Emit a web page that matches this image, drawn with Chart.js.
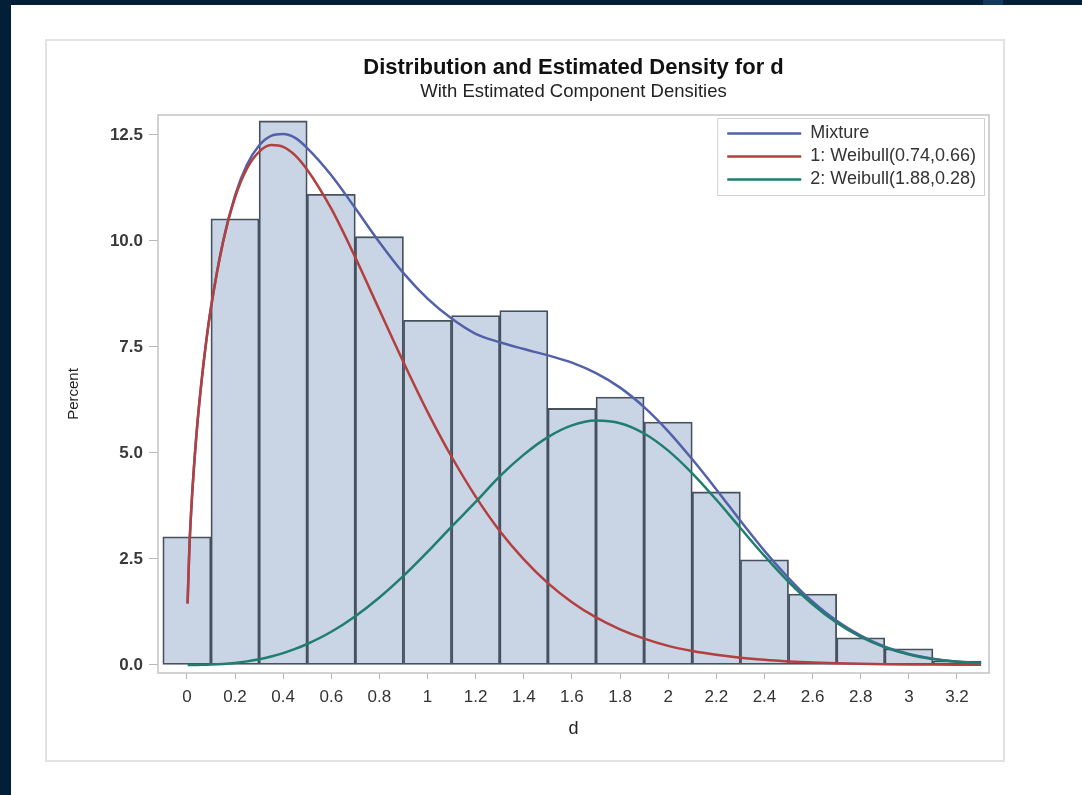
<!DOCTYPE html>
<html>
<head>
<meta charset="utf-8">
<script src="https://cdn.jsdelivr.net/npm/chart.js@4.4.1/dist/chart.umd.min.js"></script>
<style>
html,body{margin:0;padding:0;background:#fff;width:1082px;height:795px;overflow:hidden;}
#topband{position:absolute;left:0;top:0;width:1082px;height:5px;background:#021f37;}
#leftband{position:absolute;left:0;top:0;width:11px;height:795px;background:#021f37;}
#tab{position:absolute;left:983px;top:0;width:20px;height:5px;background:#133a5c;}
#frame{position:absolute;left:45px;top:39px;width:960px;height:723px;border:2px solid #e2e2e2;box-sizing:border-box;}
#wrap{position:absolute;left:0;top:0;width:1082px;height:795px;}
</style>
</head>
<body>
<div id="topband"></div>
<div id="leftband"></div>
<div id="tab"></div>
<div id="frame"></div>
<div id="wrap"><canvas id="c" width="1082" height="795"></canvas></div>
<script>
// ---- data ----
const titleText = 'Distribution and Estimated Density for d';
const subtitleText = 'With Estimated Component Densities';
const xAxisTitle = 'd';
const yAxisTitle = 'Percent';

const binCenters = [0, 0.2, 0.4, 0.6, 0.8, 1.0, 1.2, 1.4, 1.6, 1.8, 2.0, 2.2, 2.4, 2.6, 2.8, 3.0, 3.2];
const binPercent = [3.02, 10.52, 12.83, 11.1, 10.1, 8.13, 8.24, 8.36, 6.05, 6.32, 5.73, 4.08, 2.48, 1.67, 0.64, 0.38, 0.09];

const curveX = [0.003, 0.01, 0.02, 0.04, 0.06, 0.08, 0.1, 0.15, 0.2, 0.25, 0.3, 0.35, 0.4, 0.45, 0.5, 0.6, 0.7, 0.8, 0.9, 1.0, 1.1, 1.2, 1.3, 1.4, 1.5, 1.6, 1.7, 1.8, 1.9, 2.0, 2.1, 2.2, 2.3, 2.4, 2.5, 2.6, 2.7, 2.8, 2.9, 3.0, 3.1, 3.2, 3.3];
const mixtureY = [1.45, 2.70, 3.84, 5.45, 6.64, 7.62, 8.43, 9.98, 11.07, 11.80, 12.25, 12.48, 12.52, 12.43, 12.19, 11.55, 10.77, 9.97, 9.24, 8.64, 8.17, 7.81, 7.61, 7.45, 7.30, 7.13, 6.88, 6.54, 6.08, 5.51, 4.85, 4.14, 3.40, 2.69, 2.05, 1.49, 1.04, 0.69, 0.43, 0.26, 0.147, 0.079, 0.04];
const weibull1Y = [1.45, 2.70, 3.84, 5.45, 6.64, 7.61, 8.42, 9.96, 11.02, 11.71, 12.10, 12.26, 12.22, 12.02, 11.68, 10.76, 9.61, 8.37, 7.14, 5.97, 4.91, 3.97, 3.16, 2.49, 1.93, 1.48, 1.12, 0.84, 0.62, 0.45, 0.33, 0.24, 0.17, 0.12, 0.084, 0.058, 0.040, 0.027, 0.018, 0.012, 0.008, 0.005, 0.0035];
const weibull2Y = [0, 0, 0, 0.001, 0.002, 0.005, 0.008, 0.022, 0.047, 0.084, 0.134, 0.199, 0.280, 0.378, 0.494, 0.782, 1.149, 1.591, 2.100, 2.666, 3.264, 3.844, 4.447, 4.960, 5.374, 5.651, 5.764, 5.701, 5.459, 5.055, 4.519, 3.895, 3.229, 2.572, 1.962, 1.432, 0.996, 0.660, 0.415, 0.247, 0.139, 0.074, 0.037];

const seriesLabels = ['Mixture', '1: Weibull(0.74,0.66)', '2: Weibull(1.88,0.28)'];

const xTicks = [0, 0.2, 0.4, 0.6, 0.8, 1, 1.2, 1.4, 1.6, 1.8, 2, 2.2, 2.4, 2.6, 2.8, 3, 3.2];
const xTickLabels = ['0', '0.2', '0.4', '0.6', '0.8', '1', '1.2', '1.4', '1.6', '1.8', '2', '2.2', '2.4', '2.6', '2.8', '3', '3.2'];
const yTicks = [0, 2.5, 5, 7.5, 10, 12.5];
const yTickLabels = ['0.0', '2.5', '5.0', '7.5', '10.0', '12.5'];

// ---- styles ----
const FONT = '"Liberation Sans", Arial, Helvetica, sans-serif';
const colMix = '#5261a9';
const colW1 = '#b33f3f';
const colW2 = '#1f7e6e';

const pts = (xs, ys) => xs.map((x, i) => ({x: x, y: ys[i]}));

const decorPlugin = {
  id: 'decor',
  afterDatasetsDraw(chart) {
    const ctx = chart.ctx, ca = chart.chartArea;
    ctx.save();
    // plot frame
    ctx.strokeStyle = '#c3c3c3';
    ctx.lineWidth = 1.5;
    ctx.strokeRect(ca.left, ca.top, ca.right - ca.left, ca.bottom - ca.top);
    // titles centred over the plot area
    const cx = (ca.left + ca.right) / 2;
    ctx.textAlign = 'center';
    ctx.textBaseline = 'middle';
    ctx.fillStyle = '#111';
    ctx.font = 'bold 22px ' + FONT;
    ctx.fillText(titleText, cx, 68);
    ctx.fillStyle = '#222';
    ctx.font = '18.5px ' + FONT;
    ctx.fillText(subtitleText, cx, 92);
    // legend box inside plot area (top right)
    const ds = chart.data.datasets.filter(d => d.type === 'line');
    ctx.font = '18px ' + FONT;
    const maxW = Math.max(...ds.map(d => ctx.measureText(d.label).width));
    const padL = 10, lineLen = 74, gap = 9, padR = 8, rowH = 23, padT = 4;
    const w = padL + lineLen + gap + maxW + padR;
    const h = padT * 2 + rowH * ds.length;
    const bx = ca.right - 5 - w, by = ca.top + 3;
    ctx.fillStyle = '#ffffff';
    ctx.fillRect(bx, by, w, h);
    ctx.strokeStyle = '#d0d0d0';
    ctx.lineWidth = 1;
    ctx.strokeRect(bx + 0.5, by + 0.5, w, h);
    ds.forEach((d, i) => {
      const cy = by + padT + rowH * i + rowH / 2;
      ctx.strokeStyle = d.borderColor;
      ctx.lineWidth = 2.5;
      ctx.beginPath();
      ctx.moveTo(bx + padL, cy);
      ctx.lineTo(bx + padL + lineLen, cy);
      ctx.stroke();
      ctx.fillStyle = '#333';
      ctx.textBaseline = 'middle';
      ctx.textAlign = 'left';
      ctx.fillText(d.label, bx + padL + lineLen + gap, cy);
    });
    ctx.restore();
  }
};

new Chart(document.getElementById('c'), {
  type: 'bar',
  data: {
    datasets: [
      {
        type: 'bar', label: 'd', data: pts(binCenters, binPercent),
        backgroundColor: '#c9d4e5', borderColor: '#46515e', borderWidth: 1.8,
        borderSkipped: false, barPercentage: 1, categoryPercentage: 1, order: 3
      },
      {
        type: 'line', label: seriesLabels[0], data: pts(curveX, mixtureY),
        borderColor: colMix, borderWidth: 2.5, pointRadius: 0, fill: false,
        cubicInterpolationMode: 'monotone', order: 2
      },
      {
        type: 'line', label: seriesLabels[1], data: pts(curveX, weibull1Y),
        borderColor: colW1, borderWidth: 2.5, pointRadius: 0, fill: false,
        cubicInterpolationMode: 'monotone', order: 1
      },
      {
        type: 'line', label: seriesLabels[2], data: pts(curveX, weibull2Y),
        borderColor: colW2, borderWidth: 2.5, pointRadius: 0, fill: false,
        cubicInterpolationMode: 'monotone', order: 0
      }
    ]
  },
  options: {
    responsive: false,
    animation: false,
    layout: { padding: { left: 46, right: 93, top: 115, bottom: 33 } },
    plugins: {
      legend: { display: false },
      tooltip: { enabled: false },
      title: { display: false },
      subtitle: { display: false }
    },
    scales: {
      x: {
        type: 'linear', min: -0.12, max: 3.333, offset: false,
        afterBuildTicks: s => { s.ticks = xTicks.map(v => ({value: v})); },
        afterFit: s => { s.height = 89; },
        ticks: {
          callback: (v, i) => xTickLabels[i],
          font: { family: FONT, size: 17 }, color: '#333', padding: 8,
          maxRotation: 0, autoSkip: false
        },
        grid: { drawOnChartArea: false, drawTicks: true, tickLength: 6, color: '#b8b8b8', offset: false },
        border: { display: false },
        title: {
          display: true, text: xAxisTitle, color: '#222',
          font: { family: FONT, size: 18 }, padding: { top: 0, bottom: 22 }
        }
      },
      y: {
        type: 'linear', min: -0.19, max: 12.97,
        afterBuildTicks: s => { s.ticks = yTicks.map(v => ({value: v})); },
        afterFit: s => { s.width = 112; },
        ticks: {
          callback: (v, i) => yTickLabels[i],
          font: { family: FONT, size: 17, weight: 'bold' }, color: '#3a3a3a', padding: 6
        },
        grid: { drawOnChartArea: false, drawTicks: true, tickLength: 9, color: '#b8b8b8' },
        border: { display: false },
        title: {
          display: true, text: yAxisTitle, color: '#222',
          font: { family: FONT, size: 15 }, padding: { top: 19, bottom: 0 }
        }
      }
    }
  },
  plugins: [decorPlugin]
});
</script>
</body>
</html>
